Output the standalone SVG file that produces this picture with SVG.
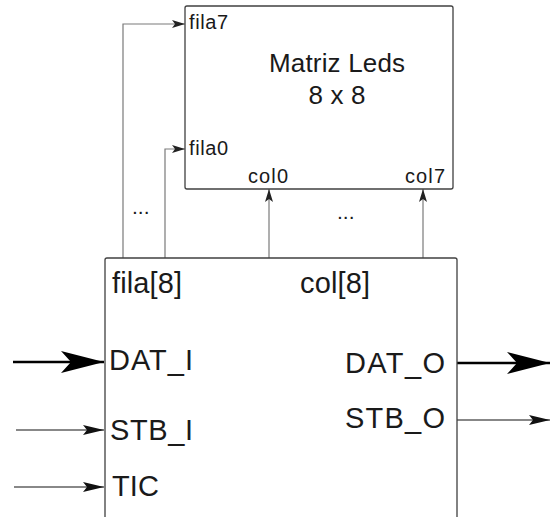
<svg xmlns="http://www.w3.org/2000/svg" width="556" height="517" viewBox="0 0 556 517">
<style>
.box{fill:#fff;stroke:#404040;stroke-width:1.3}
.t{font-family:"Liberation Sans",Arial,sans-serif;fill:#1a1a1a}
.thin{fill:none;stroke:#7a7a7a;stroke-width:1.2}
.thick{fill:none;stroke:#000;stroke-width:2.6}
.mid{fill:none;stroke:#888;stroke-width:2}
.blk{fill:none;stroke:#111;stroke-width:1.2}
</style>
<defs>
<marker id="sm" markerWidth="14" markerHeight="8" refX="13" refY="4" orient="auto" markerUnits="userSpaceOnUse">
<path d="M0,0 L13,4 L0,8 L3,4 Z" fill="#222"/>
</marker>
<marker id="md" markerWidth="22" markerHeight="10" refX="21" refY="5" orient="auto" markerUnits="userSpaceOnUse">
<path d="M0,0 L21,5 L0,10 L4,5 Z" fill="#111"/>
</marker>
<marker id="lg" markerWidth="44" markerHeight="22" refX="43" refY="11" orient="auto" markerUnits="userSpaceOnUse">
<path d="M0,0 L43,11 L0,22 L10,11 Z" fill="#000"/>
</marker>
</defs>
<g id="connectors">
<path class="thin" d="M123,258 V24 H185" marker-end="url(#sm)"/>
<path class="thin" d="M165,258 V149 H185" marker-end="url(#sm)"/>
<path class="thin" d="M269,258 V189" marker-end="url(#sm)"/>
<path class="thin" d="M423,258 V189" marker-end="url(#sm)"/>
<path class="thick" d="M13,362 H104" marker-end="url(#lg)"/>
<path class="mid" d="M16,430 H104" marker-end="url(#md)"/>
<path class="mid" d="M14,487 H104" marker-end="url(#md)"/>
<path class="thick" d="M457,363 H550" marker-end="url(#lg)"/>
<path class="blk" d="M457,420 H550" marker-end="url(#md)"/>
<text class="t" x="132" y="214" font-size="21" fill="#444">...</text>
<text class="t" x="337" y="219" font-size="21" fill="#444">...</text>
</g>
<g id="matriz">
<rect class="box" x="185" y="6" width="268" height="183" rx="2"/>
<text class="t" x="337" y="72" font-size="26" text-anchor="middle" textLength="136">Matriz Leds</text>
<text class="t" x="337" y="104" font-size="26" text-anchor="middle" textLength="57">8 x 8</text>
<text class="t" x="189" y="29" font-size="20" textLength="39">fila7</text>
<text class="t" x="189" y="155" font-size="20" textLength="39">fila0</text>
<text class="t" x="248" y="183" font-size="20" textLength="40">col0</text>
<text class="t" x="405" y="183" font-size="20" textLength="40">col7</text>
</g>
<g id="controlador">
<rect class="box" x="105" y="258" width="352" height="280" rx="2"/>
<text class="t" x="112" y="293" font-size="29" textLength="70">fila[8]</text>
<text class="t" x="300" y="293" font-size="29" textLength="70">col[8]</text>
<text class="t" x="109" y="370" font-size="29" textLength="84">DAT_I</text>
<text class="t" x="110" y="440" font-size="29" textLength="83">STB_I</text>
<text class="t" x="112" y="496" font-size="29" textLength="47">TIC</text>
<text class="t" x="345" y="373" font-size="29" textLength="100">DAT_O</text>
<text class="t" x="345" y="428" font-size="29" textLength="100">STB_O</text>
</g>
</svg>
